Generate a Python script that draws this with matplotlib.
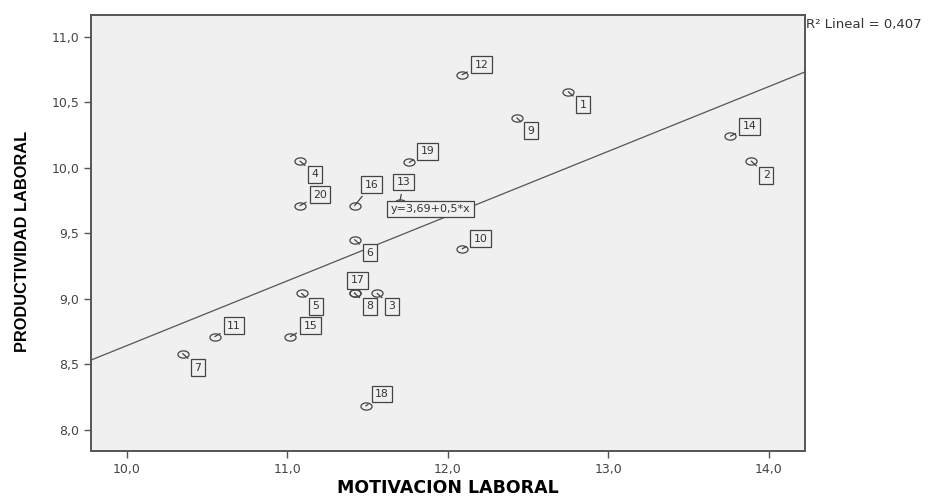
import numpy as np
import matplotlib
matplotlib.use("Agg")
import matplotlib.pyplot as plt
from matplotlib.path import Path

plt.rcParams['font.family'] = ['DejaVu Sans']

# case numbers and values
case_ids = [1, 2, 3, 4, 5, 6, 7, 8, 9, 10, 11, 12, 13, 14, 15, 16, 17, 18, 19, 20]
motivacion = [12.75, 13.89, 11.56, 11.08, 11.09, 11.42, 10.35, 11.42, 12.43, 12.09,
              10.55, 12.09, 11.70, 13.76, 11.02, 11.42, 11.42, 11.49, 11.76, 11.08]
productividad = [10.58, 10.05, 9.04, 10.05, 9.04, 9.45, 8.58, 9.04, 10.38, 9.38,
                 8.71, 10.71, 9.73, 10.24, 8.71, 9.71, 9.04, 8.18, 10.04, 9.71]
# label box offset (pixels) from its point
label_dx = [15, 15, 15, 15, 14, 15, 15, 15, 14, 18, 19, 19, 4, 19, 20, 17, 3, 16, 18, 20]
label_dy = [-13, -14, -13, -13, -13, -13, -14, -13, -13, 10, 11, 10, 21, 10, 11, 21, 13, 12, 11, 11]

fit_intercept = 3.69
fit_slope = 0.495
r2 = "0,407"

fig = plt.figure(figsize=(9.29, 4.96), dpi=100)
ax = fig.add_axes([0.098, 0.0907, 0.7685, 0.8791])
bg = '#f0f0f0'
ax.set_facecolor(bg)

xlim = (9.779, 14.224)
ylim = (7.836, 11.166)
ax.set_xlim(xlim)
ax.set_ylim(ylim)

# regression line
xs = np.array(xlim)
ax.plot(xs, fit_intercept + fit_slope * xs, color='#555555', lw=0.9, zorder=2)

# flat open ellipse like the SPSS marker
circ = Path.unit_circle()
ell = Path(circ.vertices * [1.0, 0.65], circ.codes)
ax.plot(motivacion, productividad, ls='none', marker=ell, ms=8, mfc='none',
        mec='#444444', mew=0.9, zorder=3)

for cid, x, y, dx, dy in zip(case_ids, motivacion, productividad, label_dx, label_dy):
    ax.annotate(str(cid), (x, y), xytext=(dx, dy), textcoords='offset pixels',
                ha='center', va='center', fontsize=7.8, color='#333333', zorder=5,
                bbox=dict(boxstyle='square,pad=0.32', fc=bg, ec='#444444', lw=0.9),
                arrowprops=dict(arrowstyle='-', color='#444444', lw=0.9,
                                shrinkA=2.5, shrinkB=0))

ax.text(11.645, 9.685, "y=3,69+0,5*x", ha='left', va='center', fontsize=8,
        color='#333333', zorder=6,
        bbox=dict(boxstyle='square,pad=0.3', fc=bg, ec='#444444', lw=0.9))

ax.set_xticks([10, 11, 12, 13, 14])
ax.set_xticklabels(['10,0', '11,0', '12,0', '13,0', '14,0'])
ax.set_yticks([8.0, 8.5, 9.0, 9.5, 10.0, 10.5, 11.0])
ax.set_yticklabels(['8,0', '8,5', '9,0', '9,5', '10,0', '10,5', '11,0'])
ax.tick_params(axis='both', labelsize=9, labelcolor='#444444', color='#555555',
               length=5, width=1)
for s in ax.spines.values():
    s.set_color('#555555')
    s.set_linewidth(1.4)

ax.set_xlabel("MOTIVACION LABORAL", fontsize=12.5, fontweight='bold', labelpad=2)
ax.set_ylabel("PRODUCTIVIDAD LABORAL", fontsize=11.8, fontweight='bold',
              family=['Liberation Sans', 'DejaVu Sans'])
ax.yaxis.set_label_coords(-0.086, 0.48)

fig.text(0.868, 0.95, "R² Lineal = " + r2, fontsize=9.5, color='#333333',
         ha='left', va='center')

fig.savefig('out.png', dpi=100, facecolor='white')
